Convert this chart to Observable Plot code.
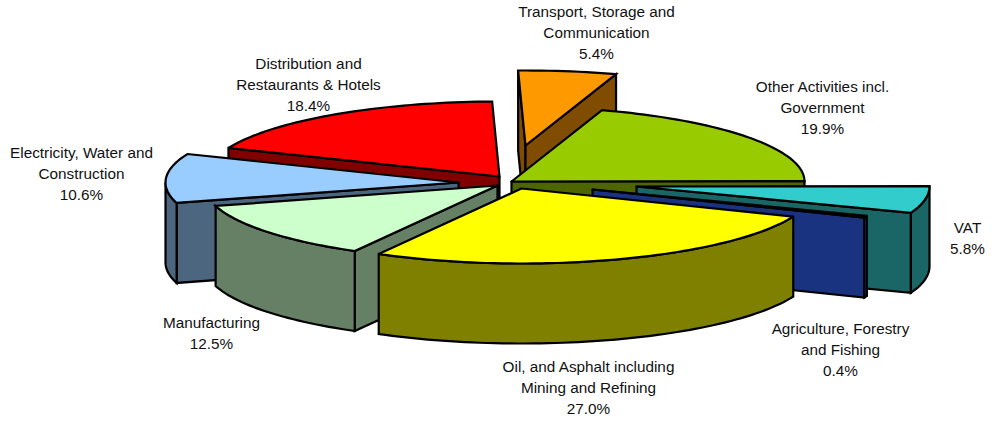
<!DOCTYPE html>
<html>
<head>
<meta charset="utf-8">
<script src="https://cdn.jsdelivr.net/npm/d3@7"></script>
<script src="https://cdn.jsdelivr.net/npm/@observablehq/plot@0.6"></script>
<style>
html,body{margin:0;padding:0;background:#fff}
svg{display:block}
</style>
</head>
<body>
<div id="chart"></div>
<script>
// Data, clockwise from the first slice angle
const names = ["Other Activities incl.\nGovernment","VAT","Agriculture, Forestry\nand Fishing","Oil, and Asphalt including\nMining and Refining","Manufacturing","Electricity, Water and\nConstruction","Distribution and\nRestaurants & Hotels","Transport, Storage and\nCommunication"];
const values = [19.9,5.8,0.4,27.0,12.5,10.6,18.4,5.4];

// Styling and layout, same slice order
const topColors = ["#99CC00","#33CCCC","#3366FF","#FFFF00","#CCFFCC","#99CCFF","#FF0000","#FF9900"];
const wallColors = ["#4D6600","#1A6666","#1A3380","#808000","#668066","#4D6680","#800000","#804D00"];
const explodeX = [511,636,592,521,497,458,499,525];
const explodeY = [181,186,189,188,185,182,176,145];
const labelX = [822,967,840,588,211,81,308,596];
const labelY = [106,236,348,386,331,172,83,31];
const paintOrder = [7,6,0,5,1,2,4,3];
const firstAngle = 18, radiusX = 293, radiusY = 75, depth = 80;

const rad = d => d * Math.PI / 180;
const rim = (i, t, drop = 0) => ({
  x: explodeX[i] + radiusX * Math.sin(rad(t)),
  y: explodeY[i] - radiusY * Math.cos(rad(t)) + drop
});
const arc = (i, a, b, drop = 0) => {
  const out = [];
  const n = Math.max(1, Math.ceil(Math.abs(b - a) / 1.5));
  for (let k = 0; k <= n; k++) out.push(rim(i, a + (b - a) * k / n, drop));
  return out;
};

let cum = firstAngle;
const spans = values.map(v => { const a = cum; cum += v * 3.6; return [a, cum]; });

const polys = [];
const add = (pts, fill) => {
  const id = polys.length ? polys[polys.length - 1].id + 1 : 0;
  [...pts, pts[0]].forEach(p => polys.push({id, x: p.x, y: p.y, fill}));
};
for (const i of paintOrder) {
  const [a, b] = spans[i];
  const apex = {x: explodeX[i], y: explodeY[i]};
  const apexLow = {x: apex.x, y: apex.y + depth};
  const wall = wallColors[i];
  if (Math.sin(rad(a)) < 0) add([apex, rim(i, a), rim(i, a, depth), apexLow], wall);
  if (Math.sin(rad(b)) > 0) add([apex, rim(i, b), rim(i, b, depth), apexLow], wall);
  const w0 = Math.max(a, 90), w1 = Math.min(b, 270);
  if (w1 > w0) add([...arc(i, w0, w1), ...arc(i, w1, w0, depth)], wall);
  add([apex, ...arc(i, a, b)], topColors[i]);
}

const labels = names.map((n, i) => ({
  text: `${n}\n${values[i].toFixed(1)}%`, x: labelX[i], y: labelY[i]
}));

const chart = Plot.plot({
  width: 992, height: 424, margin: 0,
  style: {background: "#fff"},
  x: {domain: [0, 992], range: [0, 992], axis: null},
  y: {domain: [0, 424], range: [0, 424], axis: null},
  marks: [
    Plot.line(polys, {
      x: "x", y: "y", z: "id", fill: "fill",
      stroke: "#000", strokeWidth: 2.2,
      strokeLinejoin: "miter", strokeMiterlimit: 3, curve: "linear"
    }),
    Plot.text(labels, {
      x: "x", y: "y", text: "text",
      textAnchor: "middle", lineAnchor: "middle", lineHeight: 1.37,
      fontSize: 15.3, fontFamily: "Liberation Sans, Arial, sans-serif", fill: "#111"
    })
  ]
});
document.getElementById("chart").append(chart);
</script>
</body>
</html>
